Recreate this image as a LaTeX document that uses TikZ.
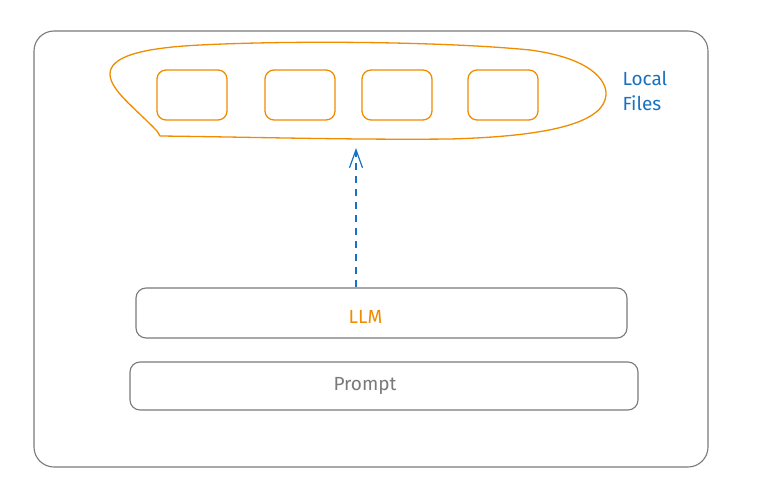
\documentclass[tikz,border=0pt]{standalone}
\usepackage{fontspec}
\setmainfont{Fira Sans}
\usetikzlibrary{arrows.meta}
\definecolor{exorange}{HTML}{F08C00}
\definecolor{exblue}{HTML}{1971C2}
\definecolor{exgray}{HTML}{7A7A7A}
\tikzset{
  sketchbox/.style={draw=exgray, line width=1.1pt, rounded corners=10pt},
  filebox/.style={draw=exorange, line width=1.3pt, rounded corners=9pt, minimum width=70pt, minimum height=50pt},
  sketchtext/.style={font=\fontsize{19}{25}\selectfont}
}
\begin{document}
\begin{tikzpicture}[x=1pt,y=-1pt]
\useasboundingbox[fill=white] (0,0) rectangle (768,495);
% outer frame
\node[sketchbox, rounded corners=20pt, minimum width=674pt, minimum height=436pt] (frame) at (371,249) {};
% local files
\draw[exorange, line width=1.3pt] (160,136) -- (157,131) .. controls (135,108) and (110,90) .. (110,74)
  .. controls (110,57) and (140,48) .. (200,45) .. controls (300,40) and (450,42) .. (530,50)
  .. controls (590,58) and (607,80) .. (606,95) .. controls (604,120) and (560,136) .. (450,139)
  .. controls (350,140) and (250,137) .. (160,136);
\foreach \x/\n in {192/a,300/b,397/c,503/d}
  \node[filebox] (file\n) at (\x,95) {};
\coordinate (files) at (356,138);
\node[sketchtext, text=exblue, align=left, anchor=north west] (local) at (619,68) {Local\\Files};
% model and prompt
\node[sketchbox, minimum width=491pt, minimum height=50pt,
  label={[sketchtext, text=exorange, xshift=-16pt, yshift=-4pt]center:LLM}] (llm) at (381.5,313) {};
\node[sketchbox, minimum width=508pt, minimum height=48pt,
  label={[sketchtext, text=exgray, xshift=-19pt]center:Prompt}] (prompt) at (384,386) {};
\draw[exblue, line width=1.2pt, dash pattern=on 7pt off 6pt, -{Straight Barb[length=18pt,width=13pt]}, shorten >=10pt]
  (llm.north -| files) -- (files);
\end{tikzpicture}
\end{document}
